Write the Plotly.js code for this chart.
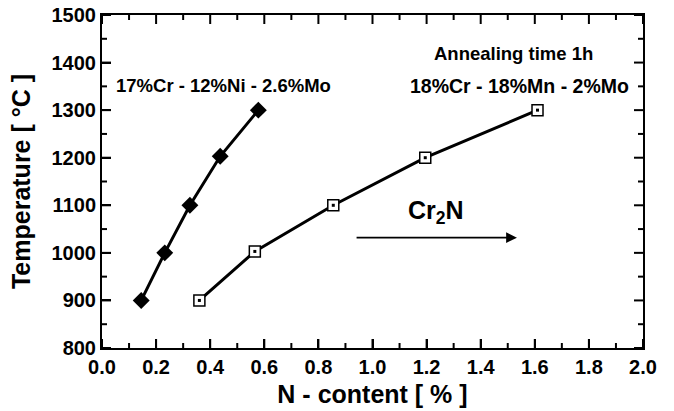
<!DOCTYPE html>
<html>
<head>
<meta charset="utf-8">
<script src="https://cdn.plot.ly/plotly-3.0.1.min.js"></script>
<style>html,body{margin:0;padding:0;background:#fff;}#chart{width:674px;height:411px;}</style>
</head>
<body>
<div id="chart"></div>
<script>
// Series 1: 17%Cr - 12%Ni - 2.6%Mo
const crNiN = [0.145, 0.232, 0.325, 0.437, 0.578];
const crNiT = [900, 1000, 1100, 1203, 1300];
// Series 2: 18%Cr - 18%Mn - 2%Mo
const crMnN = [0.36, 0.565, 0.855, 1.195, 1.61];
const crMnT = [900, 1003, 1100, 1200, 1300];

// Tick values (major + minor) on both axes
const xTickVals = [0, 0.1, 0.2, 0.3, 0.4, 0.5, 0.6, 0.7, 0.8, 0.9, 1.0, 1.1, 1.2, 1.3, 1.4, 1.5, 1.6, 1.7, 1.8, 1.9, 2.0];
const yTickVals = [800, 850, 900, 950, 1000, 1050, 1100, 1150, 1200, 1250, 1300, 1350, 1400, 1450, 1500];

const xTitle = 'N - content [ % ]';
const yTitle = 'Temperature [ °C ]';
const label1 = '17%Cr - 12%Ni - 2.6%Mo';
const label2 = '18%Cr - 18%Mn - 2%Mo';
const label3 = 'Annealing time 1h';
const phaseLabel = 'Cr<sub>2</sub>N';

const FONT = 'Liberation Sans, Arial, Helvetica, sans-serif';

const traces = [
  {x: crNiN, y: crNiT, mode: 'lines+markers', type: 'scatter', showlegend: false,
   line: {color: 'black', width: 3},
   marker: {symbol: 'diamond', size: 13, color: 'black'}},
  {x: crMnN, y: crMnT, mode: 'lines', type: 'scatter', showlegend: false,
   line: {color: 'black', width: 3}},
  {x: crMnN, y: crMnT, mode: 'markers', type: 'scatter', showlegend: false,
   marker: {symbol: 'square', size: 11, color: 'white', line: {color: 'black', width: 1.5}}},
  {x: crMnN, y: crMnT, mode: 'markers', type: 'scatter', showlegend: false,
   marker: {symbol: 'square', size: 3, color: 'black'}}
];

const M = {l: 102, r: 31, t: 15, b: 63};
const W = 674, H = 411;
const PW = W - M.l - M.r, PH = H - M.t - M.b;

// Inside tick marks on all four sides, positioned by the axes' own scales
const tickShapes = [];
const tl = {color: 'black', width: 2};
xTickVals.forEach(function (v, i) {
  const L = (i % 2 === 0 ? 9 : 5) / PH;
  tickShapes.push({type: 'line', layer: 'above', xref: 'x', yref: 'paper', x0: v, x1: v, y0: 0, y1: L, line: tl});
  tickShapes.push({type: 'line', layer: 'above', xref: 'x', yref: 'paper', x0: v, x1: v, y0: 1, y1: 1 - L, line: tl});
});
yTickVals.forEach(function (v, i) {
  const L = (i % 2 === 0 ? 9 : 5) / PW;
  tickShapes.push({type: 'line', layer: 'above', xref: 'paper', yref: 'y', x0: 0, x1: L, y0: v, y1: v, line: tl});
  tickShapes.push({type: 'line', layer: 'above', xref: 'paper', yref: 'y', x0: 1, x1: 1 - L, y0: v, y1: v, line: tl});
});

const layout = {
  width: W, height: H,
  margin: M,
  showlegend: false,
  xaxis: {
    range: [0, 2.0], dtick: 0.2, tickformat: '.1f',
    showline: true, linecolor: 'black', linewidth: 2, mirror: true,
    ticks: 'inside', ticklen: 9, tickwidth: 2, tickcolor: 'black',
    showgrid: false, zeroline: false,
    tickfont: {family: FONT, size: 20, color: 'black', weight: 'bold'},
    title: {text: xTitle, font: {family: FONT, size: 25, color: 'black', weight: 'bold'}, standoff: 8}
  },
  yaxis: {
    range: [800, 1500], dtick: 100,
    showline: true, linecolor: 'black', linewidth: 2, mirror: true,
    ticks: 'inside', ticklen: 9, tickwidth: 2, tickcolor: 'black',
    showgrid: false, zeroline: false,
    tickfont: {family: FONT, size: 20, color: 'black', weight: 'bold'},
    title: {text: yTitle, font: {family: FONT, size: 25, color: 'black', weight: 'bold'}, standoff: 14}
  },
  shapes: tickShapes,
  annotations: [
    {x: 0.449, y: 1352, xref: 'x', yref: 'y', text: label1, showarrow: false,
     font: {family: FONT, size: 18.5, color: 'black', weight: 'bold'}},
    {x: 1.523, y: 1420, xref: 'x', yref: 'y', text: label3, showarrow: false,
     font: {family: FONT, size: 18.5, color: 'black', weight: 'bold'}},
    {x: 1.545, y: 1350, xref: 'x', yref: 'y', text: label2, showarrow: false,
     font: {family: FONT, size: 19.5, color: 'black', weight: 'bold'}},
    {x: 1.235, y: 1085, xref: 'x', yref: 'y', text: phaseLabel, showarrow: false,
     font: {family: FONT, size: 25, color: 'black', weight: 'bold'}},
    {x: 1.534, y: 1032, ax: 0.93, ay: 1032, xref: 'x', yref: 'y', axref: 'x', ayref: 'y',
     text: ' ', showarrow: true, arrowhead: 2, arrowsize: 1.2, arrowwidth: 1.8, arrowcolor: 'black'}
  ]
};

Plotly.newPlot('chart', traces, layout, {displayModeBar: false});
</script>
</body>
</html>
